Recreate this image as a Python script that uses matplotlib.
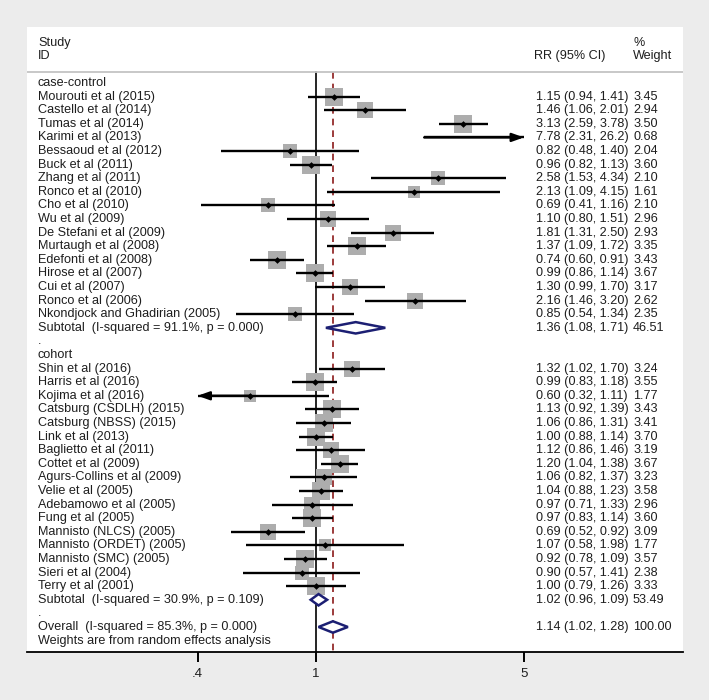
import numpy as np
import matplotlib.pyplot as plt

# case-control studies
cc_names = ["Mourouti et al (2015)", "Castello et al (2014)", "Tumas et al (2014)",
            "Karimi et al (2013)", "Bessaoud et al (2012)", "Buck et al (2011)",
            "Zhang et al (2011)", "Ronco et al (2010)", "Cho et al (2010)",
            "Wu et al (2009)", "De Stefani et al (2009)", "Murtaugh et al (2008)",
            "Edefonti et al (2008)", "Hirose et al (2007)", "Cui et al (2007)",
            "Ronco et al (2006)", "Nkondjock and Ghadirian (2005)"]
cc_rr = [1.15, 1.46, 3.13, 7.78, 0.82, 0.96, 2.58, 2.13, 0.69, 1.10, 1.81, 1.37, 0.74, 0.99, 1.30, 2.16, 0.85]
cc_lo = [0.94, 1.06, 2.59, 2.31, 0.48, 0.82, 1.53, 1.09, 0.41, 0.80, 1.31, 1.09, 0.60, 0.86, 0.99, 1.46, 0.54]
cc_hi = [1.41, 2.01, 3.78, 26.2, 1.40, 1.13, 4.34, 4.15, 1.16, 1.51, 2.50, 1.72, 0.91, 1.14, 1.70, 3.20, 1.34]
cc_w = [3.45, 2.94, 3.50, 0.68, 2.04, 3.60, 2.10, 1.61, 2.10, 2.96, 2.93, 3.35, 3.43, 3.67, 3.17, 2.62, 2.35]

# cohort studies
co_names = ["Shin et al (2016)", "Harris et al (2016)", "Kojima et al (2016)",
            "Catsburg (CSDLH) (2015)", "Catsburg (NBSS) (2015)", "Link et al (2013)",
            "Baglietto et al (2011)", "Cottet et al (2009)", "Agurs-Collins et al (2009)",
            "Velie et al (2005)", "Adebamowo et al (2005)", "Fung et al (2005)",
            "Mannisto (NLCS) (2005)", "Mannisto (ORDET) (2005)", "Mannisto (SMC) (2005)",
            "Sieri et al (2004)", "Terry et al (2001)"]
co_rr = [1.32, 0.99, 0.60, 1.13, 1.06, 1.00, 1.12, 1.20, 1.06, 1.04, 0.97, 0.97, 0.69, 1.07, 0.92, 0.90, 1.00]
co_lo = [1.02, 0.83, 0.32, 0.92, 0.86, 0.88, 0.86, 1.04, 0.82, 0.88, 0.71, 0.83, 0.52, 0.58, 0.78, 0.57, 0.79]
co_hi = [1.70, 1.18, 1.11, 1.39, 1.31, 1.14, 1.46, 1.38, 1.37, 1.23, 1.33, 1.14, 0.92, 1.98, 1.09, 1.41, 1.26]
co_w = [3.24, 3.55, 1.77, 3.43, 3.41, 3.70, 3.19, 3.67, 3.23, 3.58, 2.96, 3.60, 3.09, 1.77, 3.57, 2.38, 3.33]

# pooled estimates: case-control, cohort, overall
pool_labels = ["Subtotal  (I-squared = 91.1%, p = 0.000)",
               "Subtotal  (I-squared = 30.9%, p = 0.109)",
               "Overall  (I-squared = 85.3%, p = 0.000)"]
pool_rr = [1.36, 1.02, 1.14]
pool_lo = [1.08, 0.96, 1.02]
pool_hi = [1.71, 1.09, 1.28]
pool_w = [46.51, 53.49, 100.00]

xticks = [0.4, 1, 5]
xticklabels = [".4", "1", "5"]

clip_lo, clip_hi = 0.4, 5.0
txt = "#1e1e1e"
fs = 9.1
font = "Liberation Sans"


def fmt(v):
    return f"{v:.2f}" if v < 10 else f"{v:.1f}"


fig = plt.figure(figsize=(7.09, 7.00), dpi=100, facecolor="#ececec")
ax = fig.add_axes([27 / 709, 48 / 700, 656 / 709, 625 / 700])
ax.set_facecolor("white")
ax.set_xscale("log")
ax.set_xlim(0.1068, 17.13)
ax.set_ylim(41.84, -4.12)
for s in ["top", "left", "right"]:
    ax.spines[s].set_visible(False)
ax.spines["bottom"].set_linewidth(1.3)
ax.set_xticks(xticks)
ax.set_xticklabels(xticklabels, fontsize=9.5, color=txt, family=font)
ax.minorticks_off()
ax.set_yticks([])
ax.tick_params(axis="x", length=7.5, width=1.4, pad=4)

tr = ax.get_yaxis_transform()  # x in axes fraction, y in data
x_name, x_rr, x_w = 11 / 656, 509 / 656, 606 / 656

# header
ax.text(x_name, -2.94, "Study", transform=tr, va="center", fontsize=fs, color=txt, family=font)
ax.text(x_name, -1.99, "ID", transform=tr, va="center", fontsize=fs, color=txt, family=font)
ax.text(507 / 656, -1.99, "RR (95% CI)", transform=tr, va="center", fontsize=fs, color=txt, family=font)
ax.text(x_w, -2.94, "%", transform=tr, va="center", fontsize=fs, color=txt, family=font)
ax.text(x_w, -1.99, "Weight", transform=tr, va="center", fontsize=fs, color=txt, family=font)
ax.axhline(-0.81, color="#c4c4c4", lw=1.3)

# reference lines
ax.plot([1, 1], [-0.81, 41.84], color="black", lw=1.2, zorder=1)
ax.plot([pool_rr[2]] * 2, [-0.81, 41.84], color="#8b1a1a", lw=1.2, ls=(0, (4, 3)), zorder=1)


def study_row(r, name, rr, lo, hi, w):
    ax.text(x_name, r, name, transform=tr, va="center", fontsize=fs, color=txt, family=font)
    ax.text(x_rr, r, f"{fmt(rr)} ({fmt(lo)}, {fmt(hi)})", transform=tr, va="center",
            fontsize=fs, color=txt, family=font)
    ax.text(x_w, r, f"{w:.2f}", transform=tr, va="center", fontsize=fs, color=txt, family=font)
    if clip_lo <= rr <= clip_hi:
        side = 17.5 * np.sqrt(w / 3.45) * 0.72
        ax.plot(rr, r, marker="s", ms=side, color="#adadad", mew=0, zorder=2)
    a, b = max(lo, clip_lo), min(hi, clip_hi)
    ax.plot([a, b], [r, r], color="black", lw=1.7, zorder=3, solid_capstyle="butt")
    style = "-|>,head_length=0.7,head_width=0.25"
    if lo < clip_lo:
        ax.annotate("", xy=(clip_lo, r), xytext=(min(rr, b), r), zorder=3,
                    arrowprops=dict(arrowstyle=style, color="black", lw=1.7, shrinkA=0, shrinkB=0))
    if hi > clip_hi:
        ax.annotate("", xy=(clip_hi, r), xytext=(a, r), zorder=3,
                    arrowprops=dict(arrowstyle=style, color="black", lw=1.7, shrinkA=0, shrinkB=0))
    if clip_lo <= rr <= clip_hi:
        ax.plot(rr, r, marker="D", ms=3.4, color="black", mew=0, zorder=4)


def pooled_row(r, label, rr, lo, hi, w):
    ax.text(x_name, r, label, transform=tr, va="center", fontsize=fs, color=txt, family=font)
    ax.text(x_rr, r, f"{fmt(rr)} ({fmt(lo)}, {fmt(hi)})", transform=tr, va="center",
            fontsize=fs, color=txt, family=font)
    ax.text(x_w, r, f"{w:.2f}", transform=tr, va="center", fontsize=fs, color=txt, family=font)
    h = 0.42
    ax.fill([lo, rr, hi, rr, lo], [r, r - h, r, r + h, r], facecolor="white",
            edgecolor="#1c1f73", lw=1.8, zorder=5)


ax.text(x_name, 0, "case-control", transform=tr, va="center", fontsize=fs, color=txt, family=font)
for i in range(len(cc_names)):
    study_row(1 + i, cc_names[i], cc_rr[i], cc_lo[i], cc_hi[i], cc_w[i])
pooled_row(18, pool_labels[0], pool_rr[0], pool_lo[0], pool_hi[0], pool_w[0])
ax.text(x_name, 19, ".", transform=tr, va="center", fontsize=fs, color=txt, family=font)

ax.text(x_name, 20, "cohort", transform=tr, va="center", fontsize=fs, color=txt, family=font)
for i in range(len(co_names)):
    study_row(21 + i, co_names[i], co_rr[i], co_lo[i], co_hi[i], co_w[i])
pooled_row(38, pool_labels[1], pool_rr[1], pool_lo[1], pool_hi[1], pool_w[1])
ax.text(x_name, 39, ".", transform=tr, va="center", fontsize=fs, color=txt, family=font)
pooled_row(40, pool_labels[2], pool_rr[2], pool_lo[2], pool_hi[2], pool_w[2])
ax.text(x_name, 41, "Weights are from random effects analysis", transform=tr, va="center",
        fontsize=fs, color=txt, family=font)

fig.savefig("out.png", dpi=100, facecolor=fig.get_facecolor())
